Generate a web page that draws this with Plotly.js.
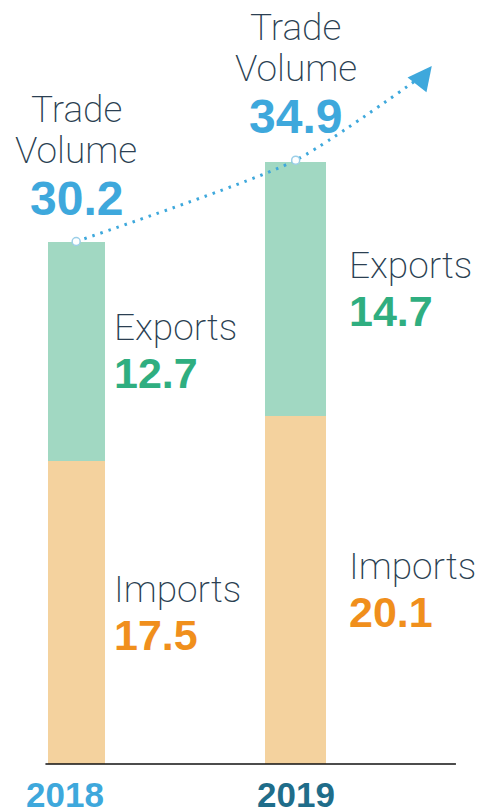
<!DOCTYPE html>
<html>
<head>
<meta charset="utf-8">
<script src="https://cdn.plot.ly/plotly-3.0.1.min.js"></script>
<style>html,body{margin:0;padding:0;background:#fff;}#chart{width:477px;height:810px;}</style>
</head>
<body>
<div id="chart"></div>
<script>
const years = ['2018', '2019'];
const imports = [17.5, 20.1];
const exports_ = [12.7, 14.7];
const totals = [30.2, 34.9];
const trendEnd = [1.59, 39.9];

const xs = [0, 1];
const C = {
  exp: '#a1d8c2', imp: '#f4d29e', total: '#3ea8dc', expTxt: '#2fae80',
  impTxt: '#f08f1c', label: '#2b3f52', y2018: '#3ea8dc', y2019: '#1f6d8a'
};
const labelFont = {family: 'Roboto', size: 37, color: C.label, weight: 200};
const valFont = (c, s) => ({family: 'Liberation Sans, Arial', size: s, color: c, weight: 700});

const traces = [
  {type: 'bar', x: xs, y: imports, width: [0.26, 0.28], marker: {color: C.imp}, hoverinfo: 'none'},
  {type: 'bar', x: xs, y: exports_, width: [0.26, 0.28], marker: {color: C.exp}, hoverinfo: 'none'},
  {type: 'scatter', mode: 'lines', x: [xs[0], xs[1], trendEnd[0]], y: [totals[0], totals[1], trendEnd[1]],
   line: {color: C.total, width: 3, dash: '2.5px,6px', shape: 'spline', smoothing: 0.6}, hoverinfo: 'none'},
  {type: 'scatter', mode: 'markers', x: xs, y: totals,
   marker: {size: 8, color: '#ffffff', line: {color: '#9ccfe8', width: 1.5}}, hoverinfo: 'none'}
];

const labOff = [0.165, 0.235];
const ann = [];
const A = (o) => Object.assign({showarrow: false, xref: 'x', yref: 'y'}, o);
xs.forEach((x, i) => {
  const impMid = imports[i] / 2;
  const expMid = imports[i] + exports_[i] / 2;
  ann.push(A({x: x + labOff[i], y: impMid, xanchor: 'left', yanchor: 'bottom', yshift: 0, text: 'Imports', font: labelFont}));
  ann.push(A({x: x + labOff[i], y: impMid, xanchor: 'left', yanchor: 'top', yshift: 4, text: imports[i].toFixed(1), font: valFont(C.impTxt, 43)}));
  ann.push(A({x: x + labOff[i], y: expMid, xanchor: 'left', yanchor: 'bottom', yshift: 0, text: 'Exports', font: labelFont}));
  ann.push(A({x: x + labOff[i], y: expMid, xanchor: 'left', yanchor: 'top', yshift: 4, text: exports_[i].toFixed(1), font: valFont(C.expTxt, 43)}));
  ann.push(A({x: x, y: totals[i], xanchor: 'center', yanchor: 'bottom', yshift: 15, text: totals[i].toFixed(1), font: valFont(C.total, 48)}));
  ann.push(A({x: x, y: totals[i], xanchor: 'center', yanchor: 'bottom', yshift: 68, text: 'Volume', font: labelFont}));
  ann.push(A({x: x, y: totals[i], xanchor: 'center', yanchor: 'bottom', yshift: 109, text: 'Trade', font: labelFont}));
  ann.push(A({x: x, y: 0, xanchor: 'center', yanchor: 'top', yshift: -9, xshift: i === 0 ? -11 : 0, text: '<b>' + years[i] + '</b>', font: valFont(i === 0 ? C.y2018 : C.y2019, 35)}));
});
// arrow head at trend end
ann.push({x: trendEnd[0] + 0.03, y: trendEnd[1] + 0.45, ax: trendEnd[0] - 0.01, ay: trendEnd[1] - 0.2,
  axref: 'x', ayref: 'y', xref: 'x', yref: 'y', showarrow: true, arrowhead: 2, arrowsize: 1.6,
  arrowwidth: 3, arrowcolor: C.total, text: ''});

const layout = {
  width: 477, height: 810, margin: {l: 0, r: 0, t: 0, b: 0},
  paper_bgcolor: '#fff', plot_bgcolor: '#fff', showlegend: false, barmode: 'stack',
  xaxis: {range: [-0.347, 1.826], visible: false, fixedrange: true},
  yaxis: {range: [-2.66, 44.16], visible: false, fixedrange: true},
  shapes: [{type: 'line', xref: 'x', yref: 'y', x0: -0.14, x1: 1.73, y0: 0, y1: 0, line: {color: '#111', width: 1.5}, layer: 'above'}],
  annotations: ann
};
Plotly.newPlot('chart', traces, layout, {staticPlot: true, displayModeBar: false});
</script>
</body>
</html>
